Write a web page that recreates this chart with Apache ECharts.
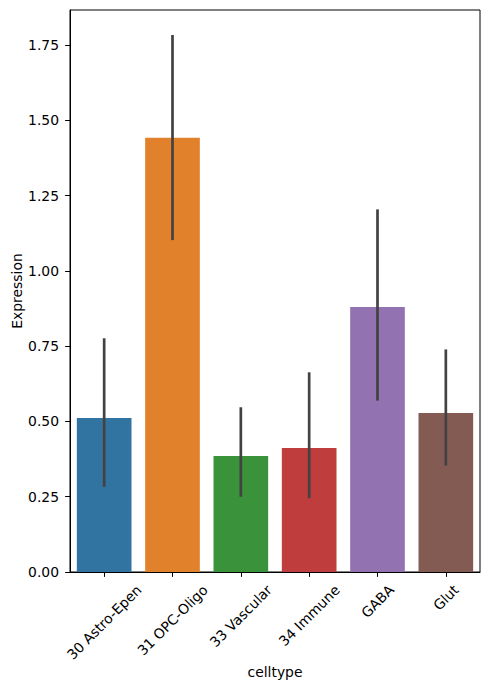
<!DOCTYPE html>
<html>
<head>
<meta charset="utf-8">
<script src="https://cdn.jsdelivr.net/npm/echarts@6/dist/echarts.min.js"></script>
<style>
html,body{margin:0;padding:0;background:#fff;}
#chart{width:490px;height:690px;}
</style>
</head>
<body>
<div id="chart"></div>
<script>
const categories = ['30 Astro-Epen', '31 OPC-Oligo', '33 Vascular', '34 Immune', 'GABA', 'Glut'];
const means = [0.511, 1.442, 0.385, 0.412, 0.880, 0.528];
const ciLow = [0.283, 1.102, 0.250, 0.245, 0.569, 0.353];
const ciHigh = [0.776, 1.783, 0.547, 0.663, 1.204, 0.739];
const barColors = ['#3274a1', '#e1812c', '#3a923a', '#c03d3e', '#9372b2', '#845b53'];
const yTicks = [0, 0.25, 0.5, 0.75, 1.0, 1.25, 1.5, 1.75];

const FONT = '"DejaVu Sans", sans-serif';
const FS = 13.9;
const measureCtx = document.createElement('canvas').getContext('2d');
measureCtx.font = FS + 'px ' + FONT;
function textWidth(t) { return measureCtx.measureText(t).width; }

const chart = echarts.init(document.getElementById('chart'), null, {renderer: 'svg'});
const option = {
  animation: false,
  backgroundColor: '#fff',
  textStyle: {fontFamily: FONT},
  grid: {left: 70, right: 10, top: 10, bottom: 118, containLabel: false, outerBoundsMode: 'none',
    show: true, borderColor: '#000', borderWidth: 1, backgroundColor: 'transparent'},
  xAxis: {
    type: 'category',
    data: categories,
    boundaryGap: true,
    axisLine: {show: true, lineStyle: {color: '#000', width: 1}},
    axisTick: {show: true, alignWithLabel: true, length: 4.9, lineStyle: {color: '#000', width: 1}},
    axisLabel: {show: false, interval: 0},
    splitLine: {show: false},
    name: 'celltype',
    nameLocation: 'middle',
    nameGap: 93,
    nameMoveOverlap: false,
    nameTextStyle: {fontSize: FS, color: '#000', fontFamily: FONT}
  },
  yAxis: {
    type: 'value',
    min: 0,
    max: 1.866,
    interval: 0.25,
    axisLine: {show: true, lineStyle: {color: '#000', width: 1}},
    axisTick: {show: true, length: 4.9, customValues: yTicks, lineStyle: {color: '#000', width: 1}},
    axisLabel: {customValues: yTicks, margin: 11, fontSize: FS, color: '#000', fontFamily: FONT,
      formatter: v => Number(v).toFixed(2)},
    splitLine: {show: false},
    name: 'Expression',
    nameLocation: 'middle',
    nameRotate: 90,
    nameGap: 46,
    nameMoveOverlap: false,
    nameTextStyle: {fontSize: FS, color: '#000', fontFamily: FONT}
  },
  series: [
    {
      type: 'bar',
      barWidth: '80%',
      data: means.map((v, i) => ({value: v, itemStyle: {color: barColors[i]}})),
      z: 2
    },
    {
      type: 'custom',
      z: 3,
      data: categories.map((c, i) => [i, ciLow[i], ciHigh[i]]),
      encode: {x: 0, y: [1, 2]},
      renderItem: function (params, api) {
        const p1 = api.coord([api.value(0), api.value(1)]);
        const p2 = api.coord([api.value(0), api.value(2)]);
        return {
          type: 'line',
          shape: {x1: p1[0], y1: p1[1], x2: p2[0], y2: p2[1]},
          style: {stroke: '#424242', lineWidth: 2.7, lineCap: 'butt'}
        };
      }
    },
    {
      type: 'custom',
      z: 3,
      clip: false,
      data: categories.map((c, i) => [i, 0]),
      encode: {x: 0, y: 1},
      renderItem: function (params, api) {
        const idx = params.dataIndex;
        const label = categories[idx];
        const p = api.coord([api.value(0), 0]);
        const L = textWidth(label);
        const h = 16;
        const cy = p[1] + 9.7 + 0.3536 * (L + h);
        return {
          type: 'text',
          x: p[0],
          y: cy,
          rotation: Math.PI / 4,
          style: {text: label, align: 'center', verticalAlign: 'middle', fontSize: FS, fontFamily: FONT, fill: '#000'}
        };
      }
    }
  ]
};
chart.setOption(option);
</script>
</body>
</html>
